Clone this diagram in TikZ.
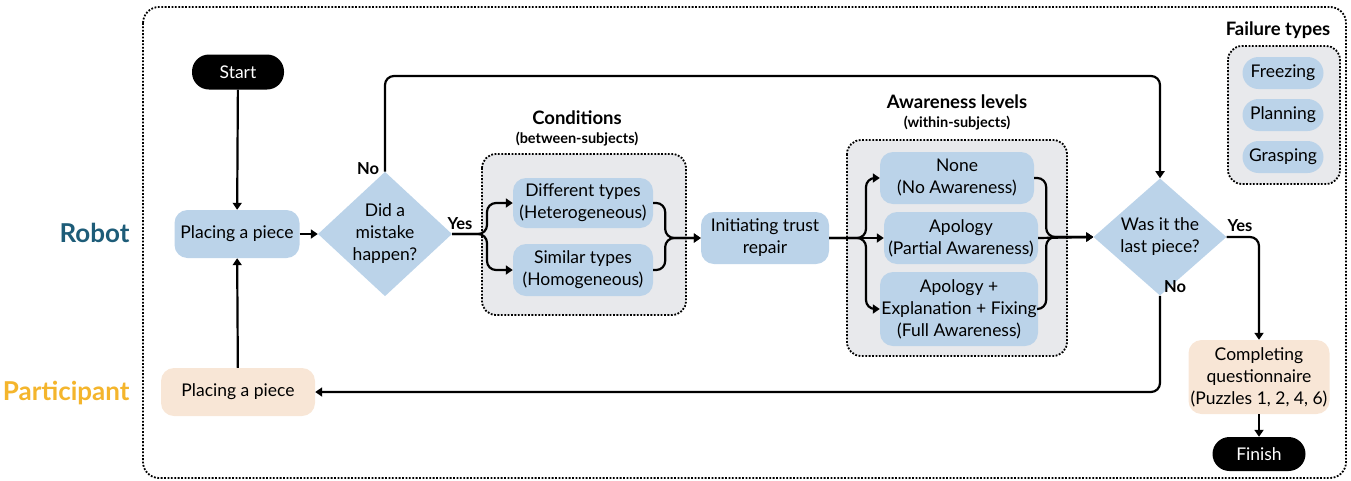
\documentclass[tikz,border=0pt]{standalone}
\usepackage{fontspec}
\setmainfont{Lato}
\usetikzlibrary{shapes.geometric,arrows.meta}
\definecolor{nodeblue}{HTML}{BBD3E9}
\definecolor{nodepeach}{HTML}{F8E6D6}
\definecolor{boxgray}{HTML}{E8E9EC}
\definecolor{robotc}{HTML}{1D5C78}
\definecolor{partc}{HTML}{F4B52C}
\begin{document}
\begin{tikzpicture}[x=1pt,y=-1pt,
  bluebox/.style={rounded corners=13, fill=nodeblue, align=center, inner sep=0pt, font=\fontsize{17.5}{22}\selectfont},
  peachbox/.style={bluebox, fill=nodepeach},
  blackpill/.style={rounded corners=17, fill=black, text=white, inner sep=0pt, font=\fontsize{17.5}{22}\selectfont},
  decision/.style={shape=diamond, fill=nodeblue, align=center, inner sep=0pt, font=\fontsize{17.5}{22}\selectfont},
  groupbox/.style={draw, rounded corners=14, fill=boxgray, line width=1.8pt, dash pattern=on 1.8pt off 1.6pt},
  pillsmall/.style={rounded corners=16, fill=nodeblue, inner sep=0pt, minimum width=81pt, minimum height=32pt, font=\fontsize{17.5}{22}\selectfont},
  arr/.style={line width=2.2pt, -{Triangle[length=7pt,width=9pt]}, rounded corners=9},
  yn/.style={font=\bfseries\fontsize{16.5}{18}\selectfont},
  gtitle/.style={font=\bfseries\fontsize{18.5}{20}\selectfont},
  gsub/.style={font=\bfseries\fontsize{14.5}{16}\selectfont},
  lane/.style={font=\bfseries\fontsize{26}{28}\selectfont, anchor=east}
]
\useasboundingbox (0,0) rectangle (1351,480);
% outer border
\draw[line width=1.8pt, dash pattern=on 1.8pt off 1.6pt, rounded corners=16] (143,7) rectangle (1346,478);

% lane labels
\node[lane, text=robotc] (lrobot) at (133,233) {Robot};
\node[lane, text=partc] (lpart) at (133,393) {Participant};

% group boxes
\draw[groupbox] (482,154) rectangle (686,315);
\node[gtitle] (tcond) at (577,118) {Conditions};
\node[gsub] (scond) at (577,139) {(between-subjects)};
\draw[groupbox] (847,140) rectangle (1067,356);
\node[gtitle] (taw) at (957,102) {Awareness levels};
\node[gsub] (saw) at (957,123) {(within-subjects)};
\draw[groupbox] (1228,46) rectangle (1340,184);
\node[gtitle] (tfail) at (1278,30) {Failure types};

% nodes
\node[blackpill, minimum width=92pt, minimum height=35pt] (start) at (238,72) {Start};
\node[bluebox, minimum width=125pt, minimum height=48pt] (prob) at (237,234) {Placing a piece};
\node[peachbox, minimum width=154pt, minimum height=48pt] (ppart) at (238,392) {Placing a piece};
\node[decision, minimum width=134pt, minimum height=112pt] (d1) at (385,234) {Did a\\mistake\\happen?};
\node[bluebox, minimum width=140pt, minimum height=50pt] (diff) at (583,203) {Different types\\(Heterogeneous)};
\node[bluebox, minimum width=140pt, minimum height=52pt] (sim) at (583,270) {Similar types\\(Homogeneous)};
\node[bluebox, minimum width=128pt, minimum height=52pt] (init) at (765,238) {Initiating trust\\repair};
\node[bluebox, minimum width=154pt, minimum height=52pt] (none) at (957,178) {None\\(No Awareness)};
\node[bluebox, minimum width=154pt, minimum height=52pt] (apol) at (961,238) {Apology\\(Partial Awareness)};
\node[bluebox, minimum width=158pt, minimum height=74pt] (full) at (959,309) {Apology +\\Explanation + Fixing\\(Full Awareness)};
\node[decision, minimum width=133pt, minimum height=78pt] (d2) at (1160,237) {Was it the\\last piece?};
\node[peachbox, minimum width=141pt, minimum height=74pt] (compl) at (1259,377) {Completing\\questionnaire\\(Puzzles 1, 2, 4, 6)};
\node[blackpill, minimum width=93pt, minimum height=34pt] (finish) at (1259,454) {Finish};
\node[pillsmall] (freez) at (1283,73) {Freezing};
\node[pillsmall] (plan) at (1283,115) {Planning};
\node[pillsmall] (grasp) at (1283,157) {Grasping};

% labels
\node[yn] (lno1) at (368,169) {No};
\node[yn] (lyes1) at (460,224) {Yes};
\node[yn] (lyes2) at (1240,226) {Yes};
\node[yn] (lno2) at (1175,287) {No};

% coordinates
\coordinate (fk1) at (487,234);
\coordinate (ntop) at (1160,76);
\coordinate (fk2) at (866,238);

% connectors
\draw[arr] (start) -- (prob);
\draw[arr] (ppart) -- (prob);
\draw[arr] (prob) -- (d1);
\draw[arr] (d1.east) -- (fk1) |- (diff.west);
\draw[arr] (d1.east) -- (fk1) |- (sim.west);
\draw[arr] (diff.east) -- ++(12,0) |- (init.west);
\draw[arr] (sim.east) -- ++(12,0) |- (init.west);
\draw[arr] (init.east) -- (fk2) |- (none.west);
\draw[arr] (init.east) -- (apol.west);
\draw[arr] (init.east) -- (fk2) |- (full.west);
\draw[arr] (none.east) -- ++(12,0) |- (d2.west);
\draw[arr] (apol.east) -- (d2.west);
\draw[arr] (full.east) -- ++(8,0) |- (d2.west);
\draw[arr] (d1.north) |- (ntop) -- (d2.north);
\draw[arr] (d2.east) -| (compl.north);
\draw[arr] (d2.south) |- (ppart.east);
\draw[arr] (compl) -- (finish);
\end{tikzpicture}
\end{document}
